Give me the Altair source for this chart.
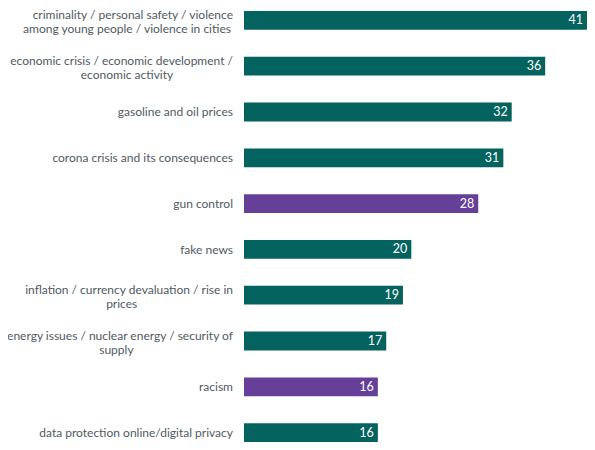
import altair as alt
import pandas as pd

line1 = [
    "criminality / personal safety / violence",
    "economic crisis / economic development /",
    "gasoline and oil prices",
    "corona crisis and its consequences",
    "gun control",
    "fake news",
    "inflation / currency devaluation / rise in",
    "energy issues / nuclear energy / security of",
    "racism",
    "data protection online/digital privacy",
]
line2 = [
    "among young people / violence in cities",
    "economic activity",
    "",
    "",
    "",
    "",
    "prices",
    "supply",
    "",
    "",
]
values = [41, 36, 32, 31, 28, 20, 19, 17, 16, 16]
groups = ["a", "a", "a", "a", "b", "a", "a", "a", "b", "a"]

cats = [f"{i}" for i in range(len(values))]
df = pd.DataFrame({"cat": cats, "line1": line1, "line2": line2, "value": values, "group": groups})

FONT = "Lato, Roboto, sans-serif"
LABEL_COLOR = "#4f5a63"
FS = 12

yenc = alt.Y("cat:N", sort=cats, axis=None,
             scale=alt.Scale(paddingInner=0.59, paddingOuter=0))
xscale = alt.Scale(domain=[0, 41], nice=False)

base = alt.Chart(df)

bars = base.mark_bar().encode(
    y=yenc,
    x=alt.X("value:Q", axis=None, scale=xscale),
    color=alt.Color("group:N", legend=None,
                    scale=alt.Scale(domain=["a", "b"], range=["#04625f", "#653f98"])),
)

vals = base.mark_text(align="right", baseline="middle", dx=-4, color="white",
                      font=FONT, fontSize=12.5).encode(
    y=yenc,
    x=alt.X("value:Q", axis=None, scale=xscale),
    text="value:Q",
)

single = base.transform_filter("datum.line2 == ''").mark_text(
    align="right", baseline="middle", color=LABEL_COLOR, font=FONT, fontSize=FS, dy=0.5
).encode(y=yenc, x=alt.value(-11), text="line1:N")

first = base.transform_filter("datum.line2 != ''").mark_text(
    align="right", baseline="middle", color=LABEL_COLOR, font=FONT, fontSize=FS, dy=-5.5
).encode(y=yenc, x=alt.value(-11), text="line1:N")

second = base.transform_filter("datum.line2 != ''").transform_calculate(
    cx="-11 - length(datum.line1) * 5.3 / 2"
).mark_text(
    align="center", baseline="middle", color=LABEL_COLOR, font=FONT, fontSize=FS, dy=9
).encode(y=yenc, x=alt.X("cx:Q", scale=None, axis=None), text="line2:N")

chart = alt.layer(bars, vals, single, first, second).properties(
    width=343, height=431,
    padding={"left": 236, "top": 3, "right": 0, "bottom": 0},
    autosize=alt.AutoSizeParams(type="none"),
).configure_view(stroke=None)

chart.save("out.html", embed_options={"renderer": "svg", "actions": False})
